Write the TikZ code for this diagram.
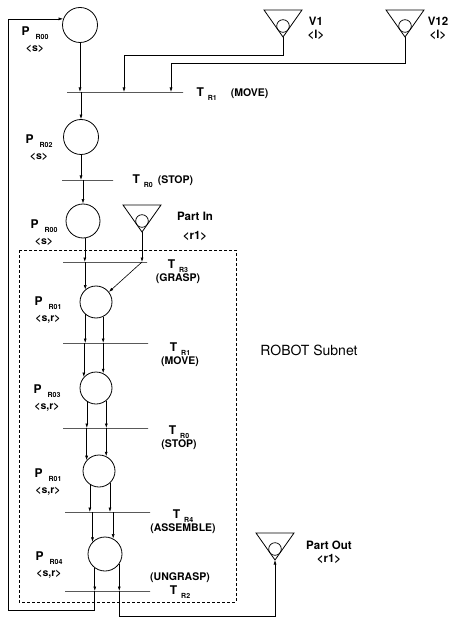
\documentclass[tikz,border=0pt]{standalone}
\usepackage{fontspec}
\setmainfont{TeX Gyre Heros}
\usetikzlibrary{arrows.meta}
\newcommand{\plab}[2]{{\large P}\hspace{6pt}\raisebox{-4pt}{\scriptsize #1}\\[4pt]<#2>}
\newcommand{\tlab}[1]{{\large T}\hspace{4pt}\raisebox{-4pt}{\scriptsize #1}}
\begin{document}
\begin{tikzpicture}[x=1pt, y=-1pt,
  place/.style={draw, circle, minimum size=#1, inner sep=0pt, line width=0.8pt},
  trans/.style={draw, minimum width=#1, minimum height=0pt, inner sep=0pt, line width=0.9pt},
  arr/.style={-{Latex[length=4.5pt,width=3pt]}, line width=0.6pt},
  lab/.style={font=\bfseries\fontsize{10.5}{12}\selectfont, align=center},
  biglab/.style={font=\bfseries\fontsize{11.5}{13}\selectfont, align=center}
]
\useasboundingbox (0,0) rectangle (453,617);
\draw[dashed, dash pattern=on 3pt off 2pt, line width=0.6pt] (19,250) rectangle (236,602);
% places
\node[place=35pt] (pa) at (80,25) {};
\node[place=35pt] (pb) at (81,137) {};
\node[place=34pt] (pc) at (83,221) {};
\node[place=32pt] (pd) at (96,302) {};
\node[place=32pt] (pe) at (96,388) {};
\node[place=32pt] (pf) at (99,471) {};
\node[place=34pt] (pg) at (105,554) {};
% transitions
\node[trans=116pt] (ta) at (125,92) {};
\node[trans=51pt] (tb) at (87.5,180) {};
\node[trans=84pt] (tc) at (105,262) {};
\node[trans=85pt] (td) at (105.5,343) {};
\node[trans=85pt] (te) at (105.5,428) {};
\node[trans=85pt] (tf) at (107.5,512) {};
\node[trans=85pt] (tg) at (107.5,591) {};
% sources and sinks
\foreach \n/\x/\y in {v1/283/37, v12/405/37, pin/142/232, pout/275/560} {
  \coordinate (\n) at (\x,\y);
  \draw[line width=0.8pt] (\n) -- ++(-19,-27) -- ++(38,0) -- cycle;
  \node[circle, draw, minimum size=12.6pt, inner sep=0pt, line width=0.7pt] (\n-c) at (\x,\y-11) {};
}
% labels
\node[lab] (lpa) at (35,40) {\plab{R00}{s}};
\node[lab] (lpb) at (39,148) {\plab{R02}{s}};
\node[lab] (lpc) at (44,233) {\plab{R00}{s}};
\node[lab] (lpd) at (48,310) {\plab{R01}{s,r}};
\node[lab] (lpe) at (47,398) {\plab{R03}{s,r}};
\node[lab] (lpf) at (48,482) {\plab{R01}{s,r}};
\node[lab] (lpg) at (49,565) {\plab{R04}{s,r}};
\node[lab, anchor=west] (lta) at (193,94) {\tlab{R1}\hspace{14pt}(MOVE)};
\node[lab, anchor=west] (ltb) at (129,181) {\tlab{R0}\hspace{5pt}(STOP)};
\node[lab] (ltc) at (178,272) {\tlab{R3}\\[1pt](GRASP)};
\node[lab] (ltd) at (180,355) {\tlab{R1}\\[1pt](MOVE)};
\node[lab] (lte) at (179,438) {\tlab{R0}\\[1pt](STOP)};
\node[lab] (ltf) at (183,522) {\tlab{R4}\\[1pt](ASSEMBLE)};
\node[lab] (ltg) at (180,586) {(UNGRASP)\\[2pt]\tlab{R2}};
\node[biglab] (lv1) at (316,28) {V1\\<l>};
\node[biglab] (lv12) at (438,28) {V12\\<l>};
\node[biglab] (lin) at (195,226) {Part In\\[6pt]<r1>};
\node[biglab] (lout) at (329,552) {Part Out\\<r1>};
\node[font=\fontsize{14}{16}\selectfont] (sub) at (309,350) {ROBOT Subnet};
% arcs
\coordinate (k1) at (124,55);
\coordinate (k2) at (171,63);
\coordinate (lb) at (8,610);
\coordinate (rb) at (275,616);
\draw[arr] (v1) |- (k1) -- (k1 |- ta);
\draw[arr] (v12) |- (k2) -- (k2 |- ta);
\draw[arr] (pa.south) -- (pa.south |- ta);
\draw[arr] (pb.north |- ta) -- (pb.north);
\draw[arr] (pb.south) -- (pb.south |- tb);
\draw[arr] (pc.north |- tb) -- (pc.north);
\draw[arr] (pc.-84) -- (pc.-84 |- tc);
\draw[arr] (pin) -- (pin |- tc);
\draw[arr] (pd.131 |- tc) -- (pd.131);
\draw[arr] (pin |- tc) -- (pd.38);
\foreach \p/\t/\a in {pd/td/-131, pd/td/-64, pe/te/-124, pe/te/-51, pf/tf/-124, pf/tf/-48, pg/tg/-126, pg/tg/-35}
  \draw[arr] (\p.\a) -- (\p.\a |- \t);
\foreach \t/\p/\a in {td/pe/138, td/pe/64, te/pf/139, te/pf/64, tf/pg/136, tf/pg/62}
  \draw[arr] (\p.\a |- \t) -- (\p.\a);
\draw[arr] (pg.-126 |- tg) |- (lb) |- (pa.160);
\draw[arr] (pg.-35 |- tg) |- (rb) -- (pout);
\end{tikzpicture}
\end{document}
